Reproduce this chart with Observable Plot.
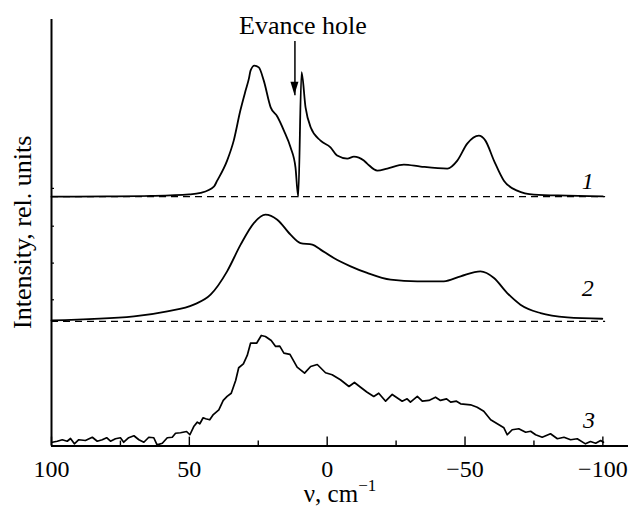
<!DOCTYPE html>
<html><head><meta charset="utf-8">
<script src="https://cdn.jsdelivr.net/npm/d3@7"></script>
<script src="https://cdn.jsdelivr.net/npm/@observablehq/plot@0.6"></script>
<style>
body{margin:0;background:#fff}
svg{display:block}
</style>
</head><body><div id="chart"></div>
<script>
// Curve 1 (with Evance hole)
const nu1 = [100, 80, 64, 50, 45.9, 41.1, 39.9, 36.3, 33.9, 31.5, 29.6, 28.4, 27.8, 26.4, 24.8, 23.0, 20.5, 18.1, 15.7, 13.3, 11.5, 10.5, 9.3, 7.85, 6.0, 2.4, -1.2, -3.6, -7.3, -9.7, -13.3, -14.5, -18.2, -21.8, -27.8, -33.9, -43.6, -47.2, -50.8, -55.0, -57.4, -60.5, -64.1, -68.9, -75.0, -87.1, -100];
const int1 = [0, 0.002, 0.006, 0.018, 0.030, 0.080, 0.128, 0.289, 0.449, 0.690, 0.850, 0.946, 1.010, 1.050, 1.036, 0.930, 0.716, 0.642, 0.529, 0.395, 0.235, 0, 0.997, 0.716, 0.556, 0.449, 0.395, 0.329, 0.305, 0.321, 0.289, 0.265, 0.208, 0.225, 0.257, 0.241, 0.225, 0.289, 0.425, 0.489, 0.449, 0.289, 0.128, 0.048, 0.016, 0.008, 0.002];
// Curve 2
const nu2 = [100, 70.1, 58.0, 48.4, 42.3, 36.3, 31.4, 26.6, 22.4, 18.1, 13.3, 9.7, 5.4, 2.4, -2.4, -8.5, -14.5, -23.0, -32.7, -42.3, -48.4, -55.6, -60.5, -65.3, -70.1, -77.4, -87.1, -99.8];
const int2 = [0.008, 0.040, 0.080, 0.134, 0.214, 0.401, 0.615, 0.788, 0.855, 0.815, 0.695, 0.628, 0.615, 0.575, 0.508, 0.441, 0.388, 0.334, 0.321, 0.321, 0.361, 0.401, 0.348, 0.227, 0.134, 0.066, 0.032, 0.021];
// Curve 3 (noisy)
const nu3 = [99.7, 97.9, 96.1, 94.3, 93.1, 91.7, 90.1, 87.7, 85.2, 83.4, 81.6, 80.0, 78.6, 76.8, 75.0, 73.8, 72.0, 70.1, 68.3, 66.5, 64.7, 62.9, 61.7, 59.8, 58.0, 56.2, 55.0, 53.2, 51.0, 49.8, 48.4, 47.1, 46.2, 45.0, 44.1, 42.6, 41.3, 39.3, 37.7, 36.3, 34.8, 33.2, 32.1, 30.4, 29.0, 27.8, 25.6, 23.9, 22.4, 20.3, 18.7, 17.2, 15.7, 13.5, 10.9, 8.2, 6.0, 3.6, 0.6, -1.8, -4.8, -7.9, -9.9, -12.1, -14.5, -16.9, -18.7, -21.2, -23.6, -27.2, -29.0, -30.2, -32.7, -34.5, -36.9, -39.3, -41.1, -43.3, -44.8, -46.9, -48.4, -52.0, -54.4, -56.8, -59.3, -61.7, -64.1, -65.3, -67.1, -69.5, -72.0, -73.8, -75.6, -78.0, -81.0, -83.5, -85.9, -88.3, -90.7, -93.7, -95.5, -97.4, -99.2, -100.2];
const int3 = [0.031, 0.039, 0.051, 0.039, 0.061, 0.018, 0.051, 0.045, 0.071, 0.039, 0.051, 0.067, 0.039, 0.059, 0.067, 0.031, 0.067, 0.083, 0.051, 0.031, 0.071, 0.067, 0.010, 0.023, 0.067, 0.071, 0.103, 0.107, 0.117, 0.091, 0.157, 0.192, 0.179, 0.227, 0.219, 0.211, 0.253, 0.291, 0.366, 0.398, 0.424, 0.526, 0.628, 0.660, 0.727, 0.825, 0.825, 0.887, 0.879, 0.847, 0.799, 0.801, 0.745, 0.735, 0.633, 0.585, 0.638, 0.654, 0.588, 0.572, 0.532, 0.478, 0.510, 0.472, 0.432, 0.398, 0.424, 0.360, 0.414, 0.360, 0.379, 0.352, 0.398, 0.360, 0.366, 0.392, 0.366, 0.379, 0.352, 0.360, 0.339, 0.331, 0.312, 0.280, 0.211, 0.179, 0.147, 0.091, 0.131, 0.139, 0.111, 0.119, 0.091, 0.071, 0.099, 0.059, 0.071, 0.051, 0.059, 0.018, 0.037, 0.023, 0.045, 0.031];

const curveNames = ["1", "2", "3"];
const offsets = [2, 1, 0];
const xMajorTicks = [100, 50, 0, -50, -100];
const xMinorTicks = [75, 25, -25, -75];
const yTicks = [2.066, 1.763, 1.467, 1.173];
const labelNu = [-94.5, -94.5, -95];
const labelY = [2.126, 1.268, 0.205];
const annotationText = "Evance hole";
const annotationNu = 8.8, annotationY = 3.37;
const arrowNu = 11.7, arrowY1 = 3.247, arrowY2 = 2.812;

const series = [[nu1, int1], [nu2, int2], [nu3, int3]];
const toRows = i => series[i][0].map((n, j) => ({curve: curveNames[i], nu: n, v: series[i][1][j] + offsets[i]}));
const smoothData = [...toRows(0), ...toRows(1)];
const noisyData = toRows(2);

const FONT = "Liberation Serif";
const W = 632, H = 506, mL = 51, mR = 4, mT = 19, mB = 60.4;
const innerW = W - mL - mR, innerH = H - mT - mB;

const chart = Plot.plot({
  width: W, height: H,
  marginLeft: mL, marginRight: mR, marginTop: mT, marginBottom: mB,
  x: {domain: [100, -109.3]},
  y: {domain: [0, 3.42], axis: null},
  style: {fontFamily: FONT, background: "white", color: "black"},
  marks: [
    Plot.ruleY(offsets.filter(o => o > 0), {x1: 100, x2: -101, stroke: "black", strokeWidth: 1.3, strokeDasharray: "7,5"}),
    Plot.line(smoothData, {x: "nu", y: "v", z: "curve", stroke: "black", strokeWidth: 1.8, curve: "monotone-x"}),
    Plot.line(noisyData, {x: "nu", y: "v", stroke: "black", strokeWidth: 1.7}),
    Plot.ruleX([100], {stroke: "black", strokeWidth: 2}),
    Plot.ruleY([0], {stroke: "black", strokeWidth: 2}),
    Plot.ruleX(xMajorTicks, {stroke: "black", strokeWidth: 1.4, insetTop: innerH - 9}),
    Plot.ruleX(xMinorTicks, {stroke: "black", strokeWidth: 1.4, insetTop: innerH - 5}),
    Plot.ruleY(yTicks, {stroke: "black", strokeWidth: 1.2, insetRight: innerW - 3}),
    Plot.axisX({ticks: xMajorTicks, tickSize: 0, tickPadding: 14, fontSize: 24, fontFamily: FONT, label: null}),
    Plot.text(curveNames, {x: labelNu, y: labelY, text: d => d, fontStyle: "italic", fontSize: 24, fontFamily: FONT, fill: "black"}),
    Plot.text([annotationText], {x: [annotationNu], y: [annotationY], text: d => d, fontSize: 26, fontFamily: FONT, fill: "black"}),
    Plot.link([0], {x1: [arrowNu], x2: [arrowNu], y1: [arrowY1], y2: [arrowY2], stroke: "black", strokeWidth: 1.5})
  ]
});

document.getElementById("chart").appendChild(chart);

// arrow head and axis titles
const svg = d3.select(chart);
const sx = chart.scale("x"), sy = chart.scale("y");
const ax = sx.apply(arrowNu), ay = sy.apply(arrowY2);
svg.append("path")
  .attr("d", `M${ax},${ay}L${ax - 4},${ay - 13}L${ax + 4},${ay - 13}Z`)
  .attr("fill", "black");

const xl = svg.append("text")
  .attr("x", 340).attr("y", 502)
  .attr("text-anchor", "middle")
  .attr("font-family", FONT)
  .attr("font-size", 25)
  .attr("fill", "black");
xl.append("tspan").text("ν, cm");
xl.append("tspan").attr("dy", -11).attr("font-size", 17).text("−1");

svg.append("text")
  .attr("transform", `translate(31,${mT + innerH / 2}) rotate(-90)`)
  .attr("text-anchor", "middle")
  .attr("font-family", FONT)
  .attr("font-size", 26)
  .attr("fill", "black")
  .text("Intensity, rel. units");
</script>
</body></html>
